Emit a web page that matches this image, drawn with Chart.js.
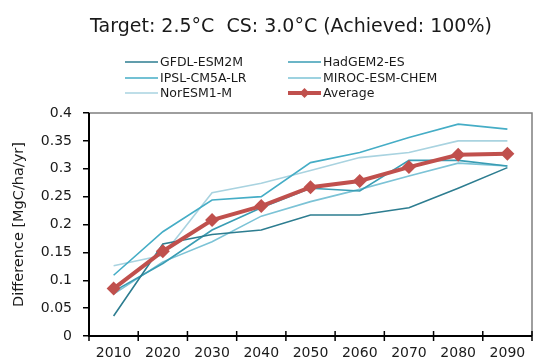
<!DOCTYPE html>
<html>
<head>
<meta charset="utf-8">
<script src="https://cdn.jsdelivr.net/npm/chart.js@4/dist/chart.umd.min.js"></script>
<style>
  html, body { margin: 0; padding: 0; background: #ffffff; }
  canvas { display: block; }
</style>
</head>
<body>
<canvas id="c" width="549" height="361"></canvas>
<script>
// Decades on the category axis
const years = ['2010', '2020', '2030', '2040', '2050', '2060', '2070', '2080', '2090'];

// Difference in carbon uptake per model [MgC/ha/yr]
const gfdlEsm2m   = [0.036, 0.165, 0.182, 0.190, 0.217, 0.217, 0.230, 0.265, 0.302];
const hadgem2Es   = [0.080, 0.130, 0.190, 0.230, 0.265, 0.260, 0.315, 0.315, 0.305];
const ipslCm5aLr  = [0.109, 0.187, 0.244, 0.250, 0.311, 0.329, 0.356, 0.380, 0.371];
const mirocEsmChem= [0.075, 0.133, 0.169, 0.215, 0.241, 0.263, 0.287, 0.310, 0.305];
const norEsm1M    = [0.126, 0.145, 0.257, 0.274, 0.297, 0.320, 0.329, 0.350, 0.350];
const average     = [0.085, 0.152, 0.208, 0.233, 0.267, 0.278, 0.303, 0.325, 0.327];

const yTicks = { min: 0, max: 0.4, step: 0.05 };

const titleText = 'Target: 2.5\u00B0C  CS: 3.0\u00B0C (Achieved: 100%)';
const FONT = '"DejaVu Sans", "Open Sans", sans-serif';

function modelLine(label, data, color) {
  return {
    label, data,
    borderColor: color, backgroundColor: color,
    borderWidth: 1.6, pointRadius: 0, tension: 0, order: 1
  };
}

// Title, two-column legend and the framed plot box
const decorations = {
  id: 'decorations',
  beforeDatasetsDraw(chart) {
    const { ctx, chartArea: a } = chart;
    ctx.save();
    ctx.strokeStyle = '#7f7f7f';
    ctx.lineWidth = 1.5;
    ctx.beginPath();
    ctx.moveTo(a.left, a.top);
    ctx.lineTo(a.right, a.top);
    ctx.lineTo(a.right, a.bottom);
    ctx.stroke();
    ctx.restore();
  },
  afterDraw(chart) {
    const { ctx, chartArea: a } = chart;
    const xs = chart.scales.x;
    ctx.save();
    // axes
    ctx.strokeStyle = '#000000';
    ctx.lineWidth = 2;
    ctx.beginPath();
    ctx.moveTo(a.left, a.top);
    ctx.lineTo(a.left, a.bottom);
    ctx.lineTo(a.right, a.bottom);
    ctx.stroke();
    // category boundary ticks crossing the x axis
    const n = chart.data.labels.length;
    ctx.lineWidth = 1.5;
    for (let i = 0; i <= n; i++) {
      const x = xs.left + (xs.width * i) / n;
      ctx.beginPath();
      ctx.moveTo(x, a.bottom - 5);
      ctx.lineTo(x, a.bottom + 5);
      ctx.stroke();
    }
    // title
    ctx.fillStyle = '#1a1a1a';
    ctx.font = '19px ' + FONT;
    ctx.textAlign = 'center';
    ctx.textBaseline = 'middle';
    ctx.fillText(titleText, 291, 27);
    // legend
    ctx.font = '12.5px ' + FONT;
    ctx.textAlign = 'left';
    const colX = [125, 288];
    const rowY = [62, 78, 93];
    chart.data.datasets.forEach((ds, i) => {
      const x = colX[i % 2];
      const y = rowY[Math.floor(i / 2)];
      ctx.strokeStyle = ds.borderColor;
      ctx.lineWidth = ds.borderWidth;
      ctx.beginPath();
      ctx.moveTo(x, y);
      ctx.lineTo(x + 33, y);
      ctx.stroke();
      if (ds.pointRadius > 0) {
        ctx.fillStyle = ds.borderColor;
        ctx.beginPath();
        ctx.moveTo(x + 16.5, y - 5);
        ctx.lineTo(x + 21.5, y);
        ctx.lineTo(x + 16.5, y + 5);
        ctx.lineTo(x + 11.5, y);
        ctx.closePath();
        ctx.fill();
      }
      ctx.fillStyle = '#1a1a1a';
      ctx.fillText(ds.label, x + 35, y + 1);
    });
    ctx.restore();
  }
};

new Chart(document.getElementById('c'), {
  type: 'line',
  data: {
    labels: years,
    datasets: [
      modelLine('GFDL-ESM2M', gfdlEsm2m, '#2d7d90'),
      modelLine('HadGEM2-ES', hadgem2Es, '#3a9db4'),
      modelLine('IPSL-CM5A-LR', ipslCm5aLr, '#45adc6'),
      modelLine('MIROC-ESM-CHEM', mirocEsmChem, '#7cc3d6'),
      modelLine('NorESM1-M', norEsm1M, '#a9d3e0'),
      {
        label: 'Average', data: average,
        borderColor: '#c0504d', backgroundColor: '#c0504d',
        borderWidth: 4, pointStyle: 'rectRot', pointRadius: 7,
        pointBorderWidth: 0, tension: 0, order: 0
      }
    ]
  },
  options: {
    responsive: false,
    animation: false,
    layout: { padding: { top: 113, right: 17, left: 0, bottom: 0 } },
    plugins: { legend: { display: false }, title: { display: false }, tooltip: { enabled: false } },
    scales: {
      x: {
        type: 'category',
        offset: true,
        grid: { display: false, offset: true, drawTicks: false },
        border: { display: false },
        ticks: { color: '#1a1a1a', font: { family: FONT, size: 14 }, padding: 9, maxRotation: 0 },
        afterFit(s) { s.height = 25; }
      },
      y: {
        min: yTicks.min, max: yTicks.max,
        grid: { drawOnChartArea: false, tickLength: 6, color: '#000000', lineWidth: 1.5 },
        border: { display: false },
        ticks: {
          stepSize: yTicks.step, color: '#1a1a1a', font: { family: FONT, size: 14 }, padding: 11,
          callback: (v) => String(parseFloat(v.toFixed(2)))
        },
        title: {
          display: true, text: 'Difference [MgC/ha/yr]', color: '#1a1a1a',
          font: { family: FONT, size: 14.5 }, padding: { top: 11, bottom: 0 }
        },
        afterFit(s) { s.width = 89; }
      }
    }
  },
  plugins: [decorations]
});
</script>
</body>
</html>
